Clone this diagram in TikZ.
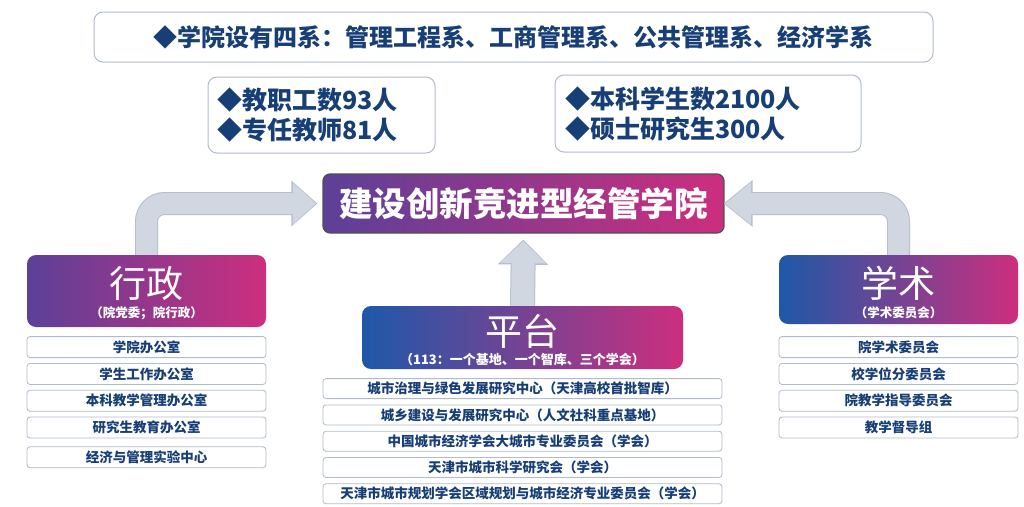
\documentclass[tikz,border=0pt]{standalone}
\usepackage{fontspec}
\setmainfont{Noto Sans CJK SC}
\usetikzlibrary{arrows.meta,positioning}
\definecolor{navy}{RGB}{24,62,118}
\definecolor{boxline}{RGB}{176,188,204}
\definecolor{arrowfill}{RGB}{208,215,225}
\definecolor{arrowline}{RGB}{180,191,206}
\definecolor{purp}{RGB}{92,64,152}
\definecolor{blu}{RGB}{30,88,168}
\definecolor{rose}{RGB}{205,46,126}
\definecolor{goalline}{RGB}{80,80,80}
\tikzstyle{card}=[draw=boxline, line width=1pt, fill=white, rounded corners=9pt, text=navy]
\tikzstyle{goal}=[draw=goalline, line width=1.2pt, rounded corners=7pt, left color=purp, right color=rose, text=white, minimum width=401pt, minimum height=59pt, inner sep=0pt, font=\fontsize{33.5}{33.5}\selectfont\bfseries]
\tikzstyle{head}=[rounded corners=9pt, inner sep=0pt, minimum width=239pt, right color=rose]
\tikzstyle{big}=[text=white, inner sep=0pt, font=\fontsize{37}{37}\selectfont]
\tikzstyle{sub}=[text=white, inner sep=0pt, font=\fontsize{12.5}{12.5}\selectfont\bfseries]
\tikzstyle{item}=[draw=boxline, line width=0.8pt, fill=white, rounded corners=3pt, inner sep=0pt, minimum width=239pt, minimum height=21pt, text=navy, font=\fontsize{13.5}{13.5}\selectfont\bfseries]
\tikzstyle{rim}=[draw=arrowline, rounded corners=18pt]
\tikzstyle{core}=[draw=arrowfill, rounded corners=18pt]

\begin{document}
\begin{tikzpicture}[x=1pt,y=-1pt]
\useasboundingbox[fill=white] (0,0) rectangle (1024,506);

% top
\node[card, minimum width=839pt, minimum height=50pt, font=\fontsize{24}{24}\selectfont\bfseries] (dept) at (513.5,37) {◆学院设有四系：管理工程系、工商管理系、公共管理系、经济学系};
\node[card, minimum height=76pt, inner xsep=9pt, text width=209pt, align=left, font=\fontsize{25}{30}\selectfont\bfseries] (staff) at (321.5,115) {◆教职工数93人\\◆专任教师81人};
\node[card, minimum height=77pt, inner xsep=10pt, text width=286pt, align=left, font=\fontsize{25}{30}\selectfont\bfseries] (stud) at (708,113.5) {◆本科学生数2100人\\◆硕士研究生300人};
\node[goal] (title) at (523.5,203.5) {建设创新竞进型经管学院};

% three pillars
\node[head, left color=purp, minimum height=72pt] (xz) at (146.5,291) {};
\node[big] (xzbig) at (146.5,283.5) {行政};
\node[sub] (xzsub) at (146.5,313) {（院党委；院行政）};

\node[head, left color=blu, minimum width=321pt, minimum height=63pt] (pt) at (522.5,337.5) {};
\node[big] (ptbig) at (522.5,331) {平台};
\node[sub, font=\fontsize{13}{13}\selectfont\bfseries] (ptsub) at (522.5,360) {（113：一个基地、一个智库、三个学会）};

\node[head, left color=blu, minimum height=69pt] (xs) at (898.5,289.5) {};
\node[big] (xsbig) at (898.5,283.5) {学术};
\node[sub] (xssub) at (898.5,313) {（学术委员会）};

% lists
\node[item, below=9pt of xz] (xz1) {学院办公室};
\node[item, below=5pt of xz1] (xz2) {学生工作办公室};
\node[item, below=5pt of xz2] (xz3) {本科教学管理办公室};
\node[item, below=5pt of xz3] (xz4) {研究生教育办公室};
\node[item, below=8pt of xz4] (xz5) {经济与管理实验中心};

\node[item, minimum width=399pt, minimum height=20pt, below=9pt of pt] (pt1) {城市治理与绿色发展研究中心（天津高校首批智库）};
\node[item, minimum width=399pt, minimum height=20pt, below=5.5pt of pt1] (pt2) {城乡建设与发展研究中心（人文社科重点基地）};
\node[item, minimum width=399pt, minimum height=20pt, below=5.5pt of pt2] (pt3) {中国城市经济学会大城市专业委员会（学会）};
\node[item, minimum width=399pt, minimum height=20pt, below=5.5pt of pt3] (pt4) {天津市城市科学研究会（学会）};
\node[item, minimum width=399pt, minimum height=20pt, below=5.5pt of pt4] (pt5) {天津市城市规划学会区域规划与城市经济专业委员会（学会）};

\node[item, below=12pt of xs] (xs1) {院学术委员会};
\node[item, below=5pt of xs1] (xs2) {校学位分委员会};
\node[item, below=5pt of xs2] (xs3) {院教学指导委员会};
\node[item, below=5pt of xs3] (xs4) {教学督导组};

% big arrows
\path[rim, line width=23pt, -{Triangle[length=26pt,width=44pt]}, shorten >=5pt] (xz.north) |- (title.west);
\path[core, line width=21pt, -{Triangle[length=23pt,width=40pt]}, shorten >=6.5pt] (xz.north) |- (title.west);
\path[rim, line width=23pt, -{Triangle[length=29pt,width=45pt]}, shorten >=-1pt] (xs.north) |- (title.east);
\path[core, line width=21pt, -{Triangle[length=26pt,width=41pt]}, shorten >=0.5pt] (xs.north) |- (title.east);
\path[rim, line width=25pt, -{Triangle[length=25pt,width=49pt]}, shorten >=6pt] (pt.north) -- (title.south);
\path[core, line width=23pt, -{Triangle[length=22pt,width=45pt]}, shorten >=7.5pt] (pt.north) -- (title.south);
\end{tikzpicture}
\end{document}
